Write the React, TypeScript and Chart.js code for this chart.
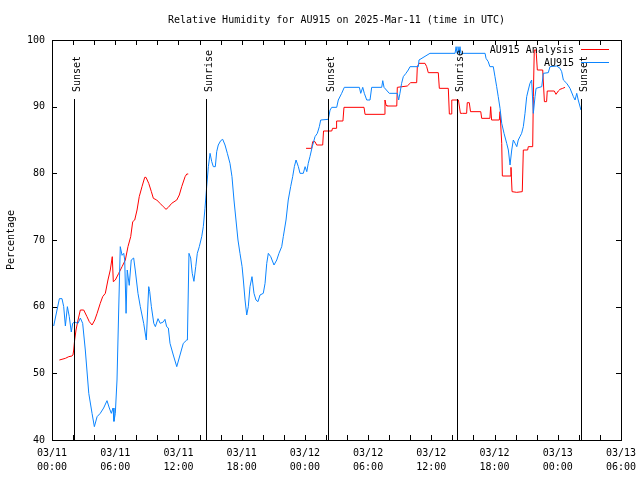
import React, { useEffect, useRef } from "react";
import { Chart, registerables } from "chart.js";

Chart.register(...registerables);

const FONT = "'DejaVu Sans Mono', 'Liberation Mono', monospace";
const TITLE = "Relative Humidity for AU915 on 2025-Mar-11 (time in UTC)";
const Y_TITLE = "Percentage";

// x values are hours since 03/11 00:00 UTC
const xTickDates = ["03/11", "03/11", "03/11", "03/11", "03/12", "03/12", "03/12", "03/12", "03/13", "03/13"];
const xTickTimes = ["00:00", "06:00", "12:00", "18:00", "00:00", "06:00", "12:00", "18:00", "00:00", "06:00"];

const sunEventLabels = ["Sunset", "Sunrise", "Sunset", "Sunrise", "Sunset"];
const sunEventHours = [2.09, 14.57, 26.22, 38.46, 50.23];

const legendLabels = ["AU915 Analysis", "AU915"];

// AU915 Analysis (red)
const analysisHours = [
  0.70, 1.27, 1.59, 1.89, 1.99, 2.06, 2.15, 2.28, 2.47, 2.69, 3.01, 3.32, 3.54, 3.80, 4.06, 4.28, 4.58, 4.81,
  5.06, 5.31, 5.53, 5.72, 5.82, 6.01, 6.33, 6.65, 6.96, 7.21, 7.47, 7.66, 7.85, 8.07, 8.28, 8.54, 8.80, 8.92,
  9.18, 9.43, 9.62, 9.94, 10.25, 10.56, 10.82, 11.04, 11.36, 11.84, 12.08, 12.31, 12.63, 12.79, 12.93,
  18.0,
  24.11, 24.64, 24.74, 24.96, 25.12, 25.69, 25.77, 26.55, 26.62, 26.96, 27.01, 27.61, 27.71, 29.61, 29.71,
  31.54, 31.60, 31.70, 31.77, 32.72, 32.77, 33.72, 34.04, 34.61, 34.67, 34.83, 35.40, 35.56, 35.71, 36.66,
  36.76, 37.61, 37.71, 37.87, 37.94, 38.57, 38.76, 38.97, 39.35, 39.41, 39.60, 39.72, 40.69, 40.78, 41.56,
  41.63, 41.72, 42.45, 42.52, 42.68, 42.74, 43.47, 43.56, 43.66, 44.10, 44.63, 44.73, 45.14, 45.20, 45.62,
  45.68, 45.77, 45.94, 46.06, 46.57, 46.73, 46.94, 47.00, 47.67, 47.83, 48.05, 48.21, 48.47, 48.69,
];
const analysisRH = [
  52, 52.25, 52.5, 52.6, 52.75, 53.5, 55, 56.5, 58, 59.5, 59.5, 58.5, 57.75, 57.25, 58, 59, 60.5, 61.5,
  62, 64, 65.5, 67.5, 63.75, 64, 65, 66, 67, 69, 70.5, 72.75, 73, 74.5, 76.5, 78, 79.4, 79.4,
  78.5, 77.25, 76.25, 76, 75.5, 75, 74.6, 74.9, 75.5, 76, 76.75, 78, 79.5, 79.9, 79.9,
  null,
  83.75, 83.75, 84.75, 84.75, 84.25, 84.25, 86.35, 86.35, 86.75, 86.75, 87.85, 87.85, 89.9, 89.9, 88.85,
  88.85, 91, 90.25, 90.1, 90.1, 92.9, 93.1, 93.6, 93.6, 96, 96.5, 96.5, 96, 95.1, 95.1,
  92.75, 92.75, 88.9, 88.9, 91, 91, 89, 89, 89, 90.6, 90.6, 89.25, 89.25, 88.25, 88.25,
  90, 88, 88, 89.25, 84.5, 79.6, 79.6, 80.9, 77.25, 77.15, 77.25, 83.5, 83.5, 84, 84,
  91.5, 98.5, 98.5, 95.5, 95.5, 90.75, 90.75, 92.35, 92.35, 91.85, 92.35, 92.6, 92.75, 92.9,
];

// AU915 observations (blue)
const obsHours = [
  0.16, 0.70, 0.95, 1.11, 1.27, 1.46, 1.64, 1.83, 1.96, 2.15, 2.47, 2.69, 2.91, 3.16, 3.49, 3.80, 4.02, 4.28,
  4.58, 4.90, 5.22, 5.44, 5.63, 5.79, 5.88, 6.01, 6.17, 6.33, 6.48, 6.65, 6.81, 6.90, 7.03, 7.14, 7.33, 7.52,
  7.75, 7.90, 8.16, 8.38, 8.70, 8.95, 9.18, 9.27, 9.43, 9.66, 9.81, 10.06, 10.27, 10.56, 10.72, 10.88, 11.04,
  11.20, 11.51, 11.84, 12.15, 12.46, 12.79, 12.85, 13.00, 13.16, 13.31, 13.47, 13.64, 13.79, 13.98, 14.21,
  14.36, 14.52, 14.68, 14.84, 15.00, 15.16, 15.31, 15.50, 15.63, 15.78, 16.01, 16.20, 16.42, 16.64, 16.89,
  17.08, 17.27, 17.46, 17.65, 17.84, 18.04, 18.16, 18.32, 18.48, 18.63, 18.79, 18.98, 19.17, 19.36, 19.55,
  19.74, 20.05, 20.22, 20.38, 20.53, 20.76, 21.07, 21.33, 21.54, 21.80, 21.95, 22.21, 22.42, 22.65, 22.84,
  23.00, 23.16, 23.38, 23.54, 23.85, 24.02, 24.18, 24.32, 24.48, 24.70, 24.96, 25.18, 25.37, 25.50, 26.22,
  26.39, 26.55, 27.02, 27.17, 27.49, 27.74, 29.17, 29.30, 29.49, 29.64, 29.87, 30.18, 30.34, 31.29, 31.39,
  31.51, 32.01, 32.77, 32.90, 33.02, 33.18, 33.34, 33.59, 33.81, 33.98, 34.77, 34.83, 35.87, 38.25, 38.35,
  38.44, 38.53, 38.62, 38.72, 38.81, 41.10, 41.19, 41.40, 41.56, 41.88, 42.04, 42.20, 42.35, 42.52, 42.68,
  42.90, 43.15, 43.31, 43.47, 43.63, 43.78, 43.95, 44.11, 44.25, 44.41, 44.57, 44.73, 44.89, 45.05, 45.20,
  45.36, 45.52, 45.68, 45.84, 45.94, 46.48, 46.63, 47.10, 47.26, 47.90, 48.21, 48.37, 48.53, 48.85, 49.16,
  49.48, 49.64, 49.80, 49.94, 50.20,
];
const obsRH = [
  57.1, 61.2, 61.2, 60, 57.1, 60, 58.5, 56.2, 57.5, 57.7, 57.5, 58.3, 57.5, 53.5, 47, 44, 42, 43.5,
  44, 44.8, 45.9, 44.8, 44, 44.8, 42.8, 44, 49, 59.5, 69, 67.7, 68, 67, 59, 65.5, 63.2, 67,
  67.3, 65.5, 62, 60, 57.5, 55, 63, 62.3, 60, 57.5, 57, 58.2, 57.5, 57.7, 58.1, 57, 56.8,
  54.5, 52.75, 51, 52.75, 54.5, 55, 55, 68, 67.3, 65, 63.8, 66, 68, 69, 70.5,
  72, 74.75, 78, 81, 83, 81.75, 81, 81, 83.25, 84.25, 84.9, 85.1, 84.25, 83, 81.5,
  79.5, 76, 73, 70, 68, 66, 64, 61, 58.75, 60, 63, 64.5, 62, 61, 60.75,
  61.75, 62, 63.5, 66.5, 68, 67.5, 66.25, 67, 68, 69, 70.5, 73, 76, 78, 79.5,
  81, 82, 81, 80, 80, 81, 80.25, 81.5, 82.5, 84, 85.5, 86, 87, 88, 88.1,
  89.5, 89.9, 89.9, 91, 92, 92.9, 92.9, 92, 92.9, 92, 91, 91, 92.9, 92.9, 93.9,
  92.9, 92, 92, 91, 92, 93.5, 94.5, 95, 95.5, 96, 96, 97, 98, 98, 99,
  98, 99, 98, 99, 98, 98, 97.25, 96.75, 96, 96, 94.5, 93, 91.5, 89.75, 87.5,
  86, 84.5, 83.5, 81.25, 83.5, 85, 84.5, 84, 85, 85.5, 86, 87, 89, 91.5, 92.5,
  93.5, 94, 89, 91.5, 92.75, 93, 95, 95.1, 96, 96.1, 95.75, 95.25, 94, 93.5, 92.75,
  91.5, 91, 92, 91, 89.5,
];

const X_MIN = 0;
const X_MAX = 54;
const X_LABEL_STEP = 6;
const X_TICK_STEP = 2;
const Y_MIN = 40;
const Y_MAX = 100;
const Y_STEP = 10;

const RED = "#ff0000";
const BLUE = "#0a84ff";

const toPoints = (xs: number[], ys: (number | null)[]) => xs.map((x, i) => ({ x, y: ys[i] }));

const overlayPlugin = {
  id: "gnuplotOverlay",
  afterDatasetsDraw(chart: any) {
    const { ctx, chartArea } = chart;
    const { left, top, right, bottom } = chartArea;
    const xs = chart.scales.x;
    const ys = chart.scales.y;
    ctx.save();
    ctx.strokeStyle = "#000";
    ctx.lineWidth = 1;
    const tickLen = 5;

    ctx.beginPath();
    for (let h = X_MIN; h <= X_MAX; h += X_TICK_STEP) {
      const px = Math.round(xs.getPixelForValue(h)) + 0.5;
      ctx.moveTo(px, bottom);
      ctx.lineTo(px, bottom - tickLen);
      ctx.moveTo(px, top);
      ctx.lineTo(px, top + tickLen);
    }
    for (let v = Y_MIN; v <= Y_MAX; v += Y_STEP) {
      const py = Math.round(ys.getPixelForValue(v)) + 0.5;
      ctx.moveTo(left, py);
      ctx.lineTo(left + tickLen, py);
      ctx.moveTo(right, py);
      ctx.lineTo(right - tickLen, py);
    }
    ctx.stroke();

    // sun events
    ctx.font = `10px ${FONT}`;
    ctx.fillStyle = "#000";
    sunEventHours.forEach((h, i) => {
      const px = Math.round(xs.getPixelForValue(h)) + 0.5;
      ctx.beginPath();
      ctx.moveTo(px, top + 59);
      ctx.lineTo(px, bottom);
      ctx.stroke();
      ctx.save();
      ctx.translate(px + 5, top + 52);
      ctx.rotate(-Math.PI / 2);
      ctx.textAlign = "left";
      ctx.textBaseline = "alphabetic";
      ctx.fillText(sunEventLabels[i], 0, 0);
      ctx.restore();
    });

    // frame
    ctx.strokeRect(left + 0.5, top + 0.5, right - left, bottom - top);

    // legend
    const colors = [RED, BLUE];
    legendLabels.forEach((label, i) => {
      const cy = top + 10 + i * 13;
      ctx.fillStyle = "#000";
      ctx.textAlign = "right";
      ctx.textBaseline = "middle";
      ctx.fillText(label, right - 47, cy);
      ctx.strokeStyle = colors[i];
      ctx.beginPath();
      ctx.moveTo(right - 40, cy - 0.5);
      ctx.lineTo(right - 12, cy - 0.5);
      ctx.stroke();
    });
    ctx.restore();
  },
};

export default function App() {
  const ref = useRef<HTMLCanvasElement | null>(null);
  useEffect(() => {
    if (!ref.current) return;
    const tickFont = { family: FONT, size: 10, weight: "normal" as const, lineHeight: 1.2 };
    const chart = new Chart(ref.current, {
      type: "line",
      data: {
        datasets: [
          {
            label: legendLabels[1],
            data: toPoints(obsHours, obsRH),
            borderColor: BLUE,
            borderWidth: 1,
            pointRadius: 0,
            tension: 0,
            fill: false,
            order: 0,
          },
          {
            label: legendLabels[0],
            data: toPoints(analysisHours, analysisRH),
            borderColor: RED,
            borderWidth: 1,
            pointRadius: 0,
            tension: 0,
            fill: false,
            spanGaps: false,
            order: 1,
          },
        ],
      },
      options: {
        animation: false,
        responsive: false,
        devicePixelRatio: 1,
        events: [],
        parsing: false as any,
        layout: { padding: { left: 0, right: 19, top: 0, bottom: 0 } },
        plugins: {
          legend: { display: false },
          tooltip: { enabled: false },
          title: {
            display: true,
            text: TITLE,
            fullSize: false,
            color: "#000",
            font: tickFont,
            padding: { top: 14, bottom: 14 },
          },
        },
        scales: {
          x: {
            type: "linear",
            min: X_MIN,
            max: X_MAX,
            grid: { display: false, drawTicks: false },
            border: { display: false },
            ticks: {
              stepSize: X_LABEL_STEP,
              autoSkip: false,
              maxRotation: 0,
              padding: 6,
              color: "#000",
              font: { ...tickFont, lineHeight: 1.4 },
              callback: (v: any) => {
                const i = Math.round((Number(v) - X_MIN) / X_LABEL_STEP);
                return [xTickDates[i], xTickTimes[i]];
              },
            },
            afterFit: (s: any) => {
              s.height = 40;
              s.paddingLeft = 0;
              s.paddingRight = 0;
            },
          },
          y: {
            type: "linear",
            min: Y_MIN,
            max: Y_MAX,
            grid: { display: false, drawTicks: false },
            border: { display: false },
            ticks: { stepSize: Y_STEP, padding: 7, color: "#000", font: tickFont },
            title: {
              display: true,
              text: Y_TITLE,
              color: "#000",
              font: tickFont,
              padding: { top: 5, bottom: 0 },
            },
            afterFit: (s: any) => {
              s.width = 52;
              s.paddingTop = 0;
              s.paddingBottom = 0;
            },
          },
        },
      },
      plugins: [overlayPlugin],
    });
    return () => chart.destroy();
  }, []);
  return (
    <canvas
      ref={ref}
      width={640}
      height={480}
      style={{ position: "fixed", left: 0, top: 0, width: 640, height: 480, display: "block", background: "#fff" }}
    />
  );
}
